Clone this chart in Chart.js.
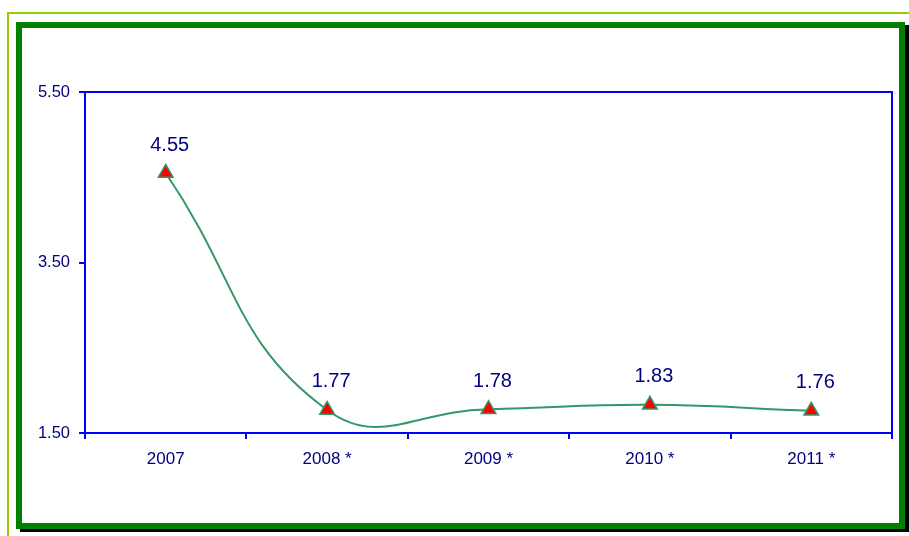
<!DOCTYPE html>
<html>
<head>
<meta charset="utf-8">
<script src="https://cdn.jsdelivr.net/npm/chart.js@4/dist/chart.umd.min.js"></script>
<style>
  body { margin: 0; background: #fff; }
  #wrap { position: relative; width: 909px; height: 536px; overflow: hidden; }
  .lime-top { position: absolute; left: 7px; top: 12px; width: 902px; height: 2px; background: #99cc00; }
  .lime-left { position: absolute; left: 7px; top: 12px; width: 2px; height: 524px; background: #99cc00; }
  .frame {
    position: absolute; left: 16px; top: 22px; width: 889px; height: 507px;
    box-sizing: border-box; border: 6px solid #008000; background: #fff;
    box-shadow: 4px 3px 0 #000;
  }
  canvas { position: absolute; left: 0; top: 0; }
</style>
</head>
<body>
<div id="wrap">
  <div class="lime-top"></div>
  <div class="lime-left"></div>
  <div class="frame"></div>
  <canvas id="rateChart" width="909" height="536"></canvas>
</div>
<script>
// ---------------- DATA ----------------
const years = ['2007', '2008 *', '2009 *', '2010 *', '2011 *'];
const rates = [4.55, 1.77, 1.78, 1.83, 1.76];
const yTicks = [1.5, 3.5, 5.5];

const navy = '#000080';
const blue = '#0000ff';
const fontFamily = '"Liberation Sans", Arial, sans-serif';

// blue box round the plot area
const plotBorder = {
    id: 'plotBorder',
    beforeDatasetsDraw(chart) {
        const a = chart.chartArea;
        const ctx = chart.ctx;
        ctx.save();
        ctx.strokeStyle = blue;
        ctx.lineWidth = 2;
        ctx.strokeRect(a.left, a.top, a.right - a.left, a.bottom - a.top);
        ctx.restore();
    }
};

// value written above each marker
const valueLabels = {
    id: 'valueLabels',
    afterDatasetsDraw(chart) {
        const ctx = chart.ctx;
        const meta = chart.getDatasetMeta(0);
        ctx.save();
        ctx.font = '20px ' + fontFamily;
        ctx.fillStyle = navy;
        ctx.textAlign = 'center';
        ctx.textBaseline = 'middle';
        meta.data.forEach((pt, i) => {
            ctx.fillText(rates[i].toFixed(2), pt.x + 4, pt.y - 28);
        });
        ctx.restore();
    }
};

new Chart(document.getElementById('rateChart'), {
    type: 'line',
    data: {
        labels: years,
        datasets: [{
            data: rates,
            borderColor: '#339966',
            borderWidth: 2,
            tension: 0.45,
            fill: false,
            pointStyle: 'triangle',
            pointRadius: 8.5,
            pointBorderWidth: 1.5,
            pointBackgroundColor: '#ff0000',
            pointBorderColor: '#339966'
        }]
    },
    options: {
        responsive: false,
        animation: false,
        clip: false,
        elements: { line: { capBezierPoints: false } },
        layout: { padding: { top: 92, right: 17, left: 0, bottom: 0 } },
        plugins: {
            legend: { display: false },
            tooltip: { enabled: false }
        },
        scales: {
            x: {
                offset: true,
                afterFit(scale) { scale.height = 103; },
                border: { display: false },
                grid: {
                    offset: true,
                    drawOnChartArea: false,
                    tickLength: 6,
                    tickColor: blue,
                    lineWidth: 2
                },
                ticks: {
                    color: navy,
                    padding: 10,
                    maxRotation: 0,
                    font: { family: fontFamily, size: 17 }
                }
            },
            y: {
                min: 1.5,
                max: 5.5,
                afterFit(scale) { scale.width = 85; },
                afterBuildTicks(scale) { scale.ticks = yTicks.map(v => ({ value: v })); },
                border: { display: false },
                grid: {
                    drawOnChartArea: false,
                    tickLength: 6,
                    tickColor: blue,
                    lineWidth: 2
                },
                ticks: {
                    color: navy,
                    padding: 9,
                    font: { family: fontFamily, size: 16.5 },
                    callback: v => Number(v).toFixed(2)
                }
            }
        }
    },
    plugins: [plotBorder, valueLabels]
});
</script>
</body>
</html>
